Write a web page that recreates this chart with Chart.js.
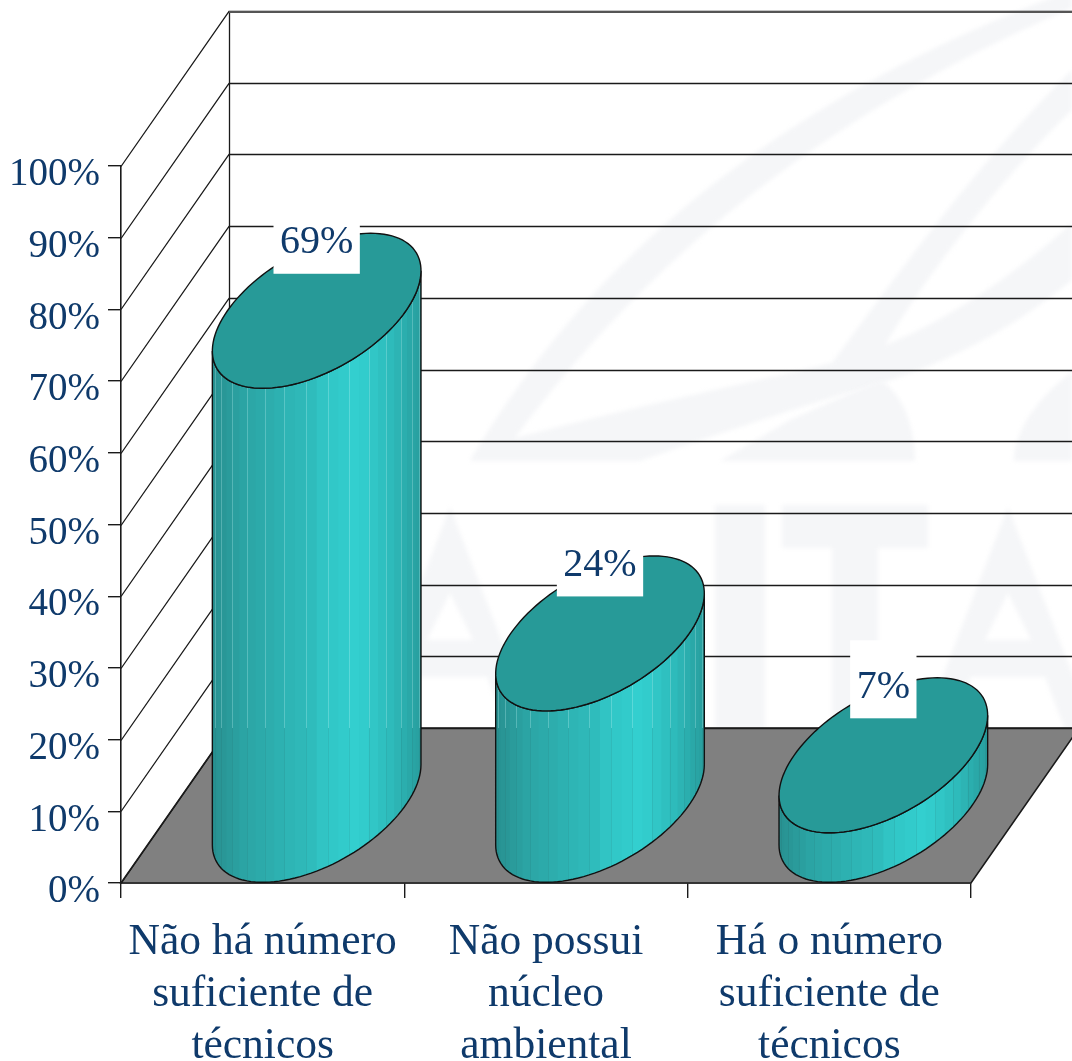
<!DOCTYPE html>
<html lang="pt">
<head>
<meta charset="utf-8">
<title>Número de técnicos</title>
<script src="https://cdn.jsdelivr.net/npm/chart.js@4"></script>
<style>
    html, body { margin: 0; padding: 0; background: #fff; overflow: hidden; }
    canvas { display: block; }
</style>
</head>
<body>
<canvas id="chart" width="1072" height="1061"></canvas>
<script>
const categories = [
    ['Não há número', 'suficiente de', 'técnicos'],
    ['Não possui', 'núcleo', 'ambiental'],
    ['Há o número', 'suficiente de', 'técnicos']
];
const shares = [69, 24, 7];

const TEXT_COLOR = '#0f3a6b';
const LINE_COLOR = '#1a1a1a';
const FONT = '"Liberation Serif", serif';
const LABEL_SIZE = 40;
// oblique depth of the 3D box
const DEPTH_X = 108;
const DEPTH_Y = 155;

function poly(ctx, pts) {
    ctx.moveTo(pts[0], pts[1]);
    for (let i = 2; i < pts.length; i += 2) ctx.lineTo(pts[i], pts[i + 1]);
    ctx.closePath();
}

function letterA(ctx, cx) {
    poly(ctx, [cx, 507, cx + 90, 740, cx + 61, 740, cx + 37, 677, cx - 37, 677, cx - 61, 740, cx - 90, 740]);
    poly(ctx, [cx, 593, cx - 23, 640, cx + 23, 640]);
}

// faint logo behind the plot
const watermark = {
    id: 'watermark',
    beforeDraw(chart) {
        const ctx = chart.ctx;
        ctx.save();
        ctx.fillStyle = '#fff';
        ctx.fillRect(0, 0, chart.width, chart.height);
        ctx.beginPath();
        ctx.rect(0, 0, chart.width, 728);
        ctx.clip();
        ctx.fillStyle = '#f5f6f8';
        ctx.filter = 'blur(2px)';

        ctx.beginPath();
        ctx.moveTo(470, 461);
        ctx.bezierCurveTo(560, 310, 720, 120, 1072, -10);
        ctx.lineTo(1072, 8);
        ctx.bezierCurveTo(810, 120, 640, 270, 515, 438);
        ctx.bezierCurveTo(640, 405, 740, 385, 832, 363);
        ctx.bezierCurveTo(900, 270, 980, 160, 1072, 70);
        ctx.lineTo(1072, 110);
        ctx.bezierCurveTo(1000, 180, 930, 270, 885, 345);
        ctx.bezierCurveTo(950, 320, 1020, 270, 1072, 223);
        ctx.lineTo(1072, 280);
        ctx.bezierCurveTo(1000, 340, 920, 375, 840, 395);
        ctx.bezierCurveTo(760, 420, 700, 440, 640, 461);
        ctx.closePath();
        ctx.fill();

        ctx.beginPath();
        ctx.moveTo(915, 461);
        ctx.bezierCurveTo(915, 430, 905, 395, 880, 380);
        ctx.lineTo(790, 420);
        ctx.lineTo(720, 461);
        ctx.closePath();
        ctx.moveTo(1014, 461);
        ctx.bezierCurveTo(1014, 430, 1040, 395, 1072, 372);
        ctx.lineTo(1072, 461);
        ctx.closePath();
        ctx.fill();

        ctx.beginPath();
        letterA(ctx, 450);
        letterA(ctx, 1008);
        ctx.rect(715, 505, 50, 223);
        ctx.rect(782, 505, 146, 43);
        ctx.rect(832, 548, 46, 180);
        ctx.fill('evenodd');
        ctx.restore();
    }
};

// back wall, side wall and floor, hung on the y scale
const box3d = {
    id: 'box3d',
    beforeDatasetsDraw(chart) {
        const ctx = chart.ctx;
        const y = chart.scales.y;
        const x0 = chart.chartArea.left;
        const x1 = chart.chartArea.right;
        const yb = y.getPixelForValue(0);
        const yt = y.getPixelForValue(100);
        ctx.save();
        ctx.beginPath();
        poly(ctx, [x0, yb, x1, yb, x1 + DEPTH_X, yb - DEPTH_Y, x0 + DEPTH_X, yb - DEPTH_Y]);
        ctx.fillStyle = '#808080';
        ctx.fill();
        ctx.strokeStyle = LINE_COLOR;
        ctx.lineWidth = 1.6;
        ctx.stroke();

        ctx.beginPath();
        ctx.lineWidth = 1.3;
        y.ticks.forEach(t => {
            const py = Math.round(y.getPixelForValue(t.value)) + 0.5;
            ctx.moveTo(x0, py);
            ctx.lineTo(x0 + DEPTH_X, py - DEPTH_Y);
            ctx.lineTo(chart.width, py - DEPTH_Y);
        });
        ctx.moveTo(x0 + DEPTH_X + 0.5, yt - DEPTH_Y);
        ctx.lineTo(x0 + DEPTH_X + 0.5, yb - DEPTH_Y);
        ctx.stroke();

        // heavier top edge of the back wall
        ctx.beginPath();
        ctx.strokeStyle = '#555';
        ctx.lineWidth = 2;
        ctx.moveTo(x0 + DEPTH_X, yt - DEPTH_Y + 1);
        ctx.lineTo(chart.width, yt - DEPTH_Y + 1);
        ctx.stroke();
        ctx.restore();
    }
};

function shade(f) {
    // f runs 0..1 from left to right round the drum
    const stops = [[0, 40, 145, 145], [0.12, 43, 163, 163], [0.35, 46, 181, 181], [0.72, 51, 208, 208], [0.88, 46, 186, 186], [1, 40, 158, 158]];
    for (let i = 1; i < stops.length; i++) {
        if (f <= stops[i][0]) {
            const a = stops[i - 1], b = stops[i];
            const k = (f - a[0]) / (b[0] - a[0]);
            return 'rgb(' + [1, 2, 3].map(c => Math.round(a[c] + (b[c] - a[c]) * k)).join(',') + ')';
        }
    }
    return 'rgb(40,158,158)';
}

const cylinders = {
    id: 'cylinders',
    afterDatasetsDraw(chart) {
        const ctx = chart.ctx;
        const meta = chart.getDatasetMeta(0);
        const backY = chart.scales.y.getPixelForValue(0) - DEPTH_Y;
        const hw = meta.data[0].width / 2;
        const hx = DEPTH_X / 2, hy = DEPTH_Y / 2;
        const t0 = Math.atan2(hx, hw);
        const radius = Math.hypot(hw, hx);

        meta.data.forEach((bar, i) => {
            const cx = bar.x + hx;
            const topY = bar.y - hy;
            const botY = bar.base - hy;
            const px = t => cx + hw * Math.cos(t) + hx * Math.sin(t);
            const py = (t, c) => c - hy * Math.sin(t);

            // body outline
            const outline = () => {
                ctx.beginPath();
                ctx.moveTo(px(t0), py(t0, topY));
                for (let k = 0; k <= 60; k++) {
                    const t = t0 - Math.PI * k / 60;
                    ctx.lineTo(px(t), py(t, botY));
                }
                ctx.lineTo(px(t0 - Math.PI), py(t0 - Math.PI, topY));
                for (let k = 0; k <= 60; k++) {
                    const t = t0 - Math.PI + Math.PI * k / 60;
                    ctx.lineTo(px(t), py(t, topY));
                }
                ctx.closePath();
            };

            ctx.save();
            outline();
            ctx.clip();
            const strips = 30;
            const yTop = topY - hy;
            const yBot = botY + hy;
            for (let k = 0; k < strips; k++) {
                const xa = cx - radius * Math.cos(Math.PI * k / strips);
                const xb = cx - radius * Math.cos(Math.PI * (k + 1) / strips);
                ctx.fillStyle = shade((xa + xb) / 2 > cx ? 0.5 + (xb - cx) / radius / 2 : 0.5 + (xa - cx) / radius / 2);
                ctx.fillRect(xa, yTop, xb - xa + 1, yBot - yTop);
                if (k % 2 === 0 && k > 0) {
                    // seams show light above the floor line, dark on it
                    ctx.fillStyle = 'rgba(190,240,240,0.3)';
                    ctx.fillRect(Math.round(xa), yTop, 1, Math.max(0, backY - yTop));
                    ctx.fillStyle = 'rgba(40,90,90,0.12)';
                    ctx.fillRect(Math.round(xa), Math.max(yTop, backY), 1, yBot - Math.max(yTop, backY));
                }
            }
            ctx.restore();

            ctx.strokeStyle = '#111';
            ctx.lineWidth = 1.4;
            outline();
            ctx.stroke();

            // top cap
            ctx.beginPath();
            for (let k = 0; k <= 120; k++) {
                const t = Math.PI * 2 * k / 120;
                if (k === 0) ctx.moveTo(px(t), py(t, topY));
                else ctx.lineTo(px(t), py(t, topY));
            }
            ctx.closePath();
            ctx.fillStyle = '#279a98';
            ctx.fill();
            ctx.stroke();

            // value label on its white plate
            const text = shares[i] + '%';
            ctx.font = LABEL_SIZE + 'px ' + FONT;
            const tw = ctx.measureText(text).width;
            const boxW = tw + 13;
            const boxH = 78;
            const boxY = topY - 76;
            ctx.fillStyle = '#fff';
            ctx.fillRect(cx - boxW / 2, boxY - boxH / 2, boxW, boxH);
            ctx.fillStyle = TEXT_COLOR;
            ctx.textAlign = 'center';
            ctx.textBaseline = 'middle';
            ctx.fillText(text, cx, boxY + 8);
        });
    }
};

new Chart(document.getElementById('chart'), {
    type: 'bar',
    data: {
        labels: categories,
        datasets: [{
            data: shares,
            backgroundColor: 'rgba(0,0,0,0)',
            borderWidth: 0,
            barPercentage: 0.63,
            categoryPercentage: 1
        }]
    },
    options: {
        responsive: false,
        animation: false,
        layout: { padding: { top: 166, right: 101 } },
        plugins: {
            legend: { display: false },
            tooltip: { enabled: false }
        },
        scales: {
            x: {
                afterFit(scale) { scale.height = 178; },
                grid: { drawOnChartArea: false, tickLength: 15, color: LINE_COLOR, lineWidth: 1.4 },
                border: { color: LINE_COLOR, width: 1.6 },
                ticks: {
                    color: TEXT_COLOR,
                    padding: 19,
                    maxRotation: 0,
                    autoSkip: false,
                    font: { family: FONT, size: 43.5, lineHeight: 1.195 }
                }
            },
            y: {
                min: 0,
                max: 100,
                afterFit(scale) { scale.width = 121; },
                grid: { drawOnChartArea: false, tickLength: 13, color: LINE_COLOR, lineWidth: 1.4 },
                border: { color: LINE_COLOR, width: 1.6 },
                ticks: {
                    stepSize: 10,
                    color: TEXT_COLOR,
                    padding: 8,
                    labelOffset: 9,
                    font: { family: FONT, size: 39 },
                    callback: v => v + '%'
                }
            }
        }
    },
    plugins: [watermark, box3d, cylinders]
});
</script>
</body>
</html>
